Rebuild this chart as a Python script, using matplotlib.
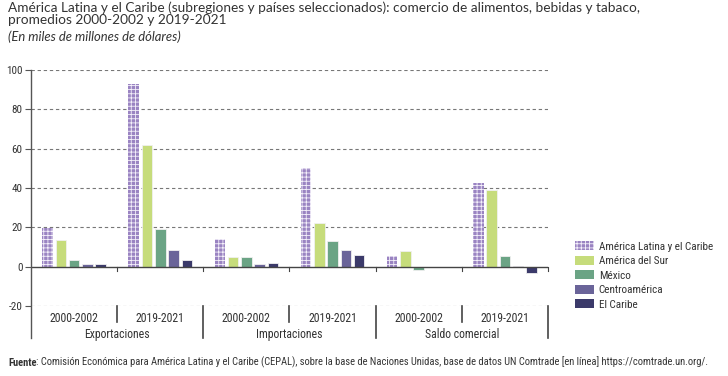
import matplotlib
matplotlib.use('Agg')
import matplotlib.pyplot as plt
import matplotlib.patches as mpatches
import numpy as np

# Data (miles de millones de dólares)
periods = ["2000-2002", "2019-2021"] * 3
groups = ["Exportaciones", "Importaciones", "Saldo comercial"]
series_names = ["América Latina y el Caribe", "América del Sur", "México",
                "Centroamérica", "El Caribe"]
alc = [19.8, 92.9, 14.1, 50.4, 5.6, 42.3]
sur = [13.4, 61.8, 5.1, 22.4, 8.0, 39.2]
mex = [3.2, 19.0, 5.1, 13.2, -1.9, 5.3]
centro = [1.2, 8.7, 1.5, 8.3, -0.3, 0.2]
caribe = [1.6, 3.2, 2.0, 6.1, -0.3, -3.1]
y_ticks = [-20, 0, 20, 40, 60, 80, 100]

COLORS = ["#9a84c2", "#c6dc7b", "#6ba485", "#6a6499", "#3b3a6a"]
NARROW = "Roboto Condensed"
TITLE_FONT = "Lato"
TXT = "#333333"
HATCH = '++++'

plt.rcParams['hatch.linewidth'] = 0.6

fig = plt.figure(figsize=(7.28, 3.76), dpi=100)
fig.patch.set_facecolor('white')

# axes placement in pixels (fig is 728 x 376)
L, R, T, B = 31, 548, 70, 306
ax = fig.add_axes([L / 728, 1 - B / 376, (R - L) / 728, (B - T) / 376])

x = np.arange(len(periods))
step = 0.154
width = 0.122
all_series = [alc, sur, mex, centro, caribe]
for i, vals in enumerate(all_series):
    off = (i - 2) * step
    if i == 0:
        ax.bar(x + off, vals, width, facecolor=COLORS[i], edgecolor='#f4f0fa',
               hatch=HATCH, linewidth=0.0, zorder=3)
    else:
        ax.bar(x + off, vals, width, color=COLORS[i], edgecolor='#f0f0f0',
               linewidth=0.6, zorder=3)

ax.set_xlim(-0.5, 5.5)
ax.set_ylim(-20, 100)
ax.set_yticks(y_ticks)
ax.set_yticklabels([str(v) for v in y_ticks], fontsize=8, family=NARROW, color=TXT)
ax.set_xticks([])
for s in ax.spines.values():
    s.set_visible(False)
ax.tick_params(axis='y', length=4, width=0.8, color='#555555', pad=2)

# gridlines
for v in y_ticks:
    if v == 0:
        ax.axhline(0, color='#444444', lw=1.0, zorder=4)
    else:
        ax.axhline(v, color='#777777', lw=0.8, ls=(0, (3, 2.5)), zorder=1)

xtrans = ax.get_xaxis_transform()
# left axis line, extended below the plot
ax.plot([0, 0], [-0.136, 1.0], transform=ax.transAxes, color='#555555',
        lw=1.0, clip_on=False, zorder=5)

# separators and zero-line ticks
for b in np.arange(0.5, 6, 1.0):
    long_sep = int(round(b - 0.5)) % 2 == 1
    y0 = -0.136 if long_sep else -0.068
    ax.plot([b, b], [y0, 0.0], transform=xtrans, color='#444444',
            lw=1.2, clip_on=False, zorder=5)
    ax.plot([b, b], [0, -2], color='#444444', lw=0.8, clip_on=False, zorder=5)

for xi, p in zip(x, periods):
    ax.text(xi, -0.053, p, transform=xtrans, ha='center', va='center',
            fontsize=8.5, family=NARROW, color=TXT)
for gi, g in enumerate(groups):
    ax.text(2 * gi + 0.5, -0.12, g, transform=xtrans, ha='center',
            va='center', fontsize=8.5, family=NARROW, color=TXT)

# legend
handles = []
for i, name in enumerate(series_names):
    if i == 0:
        handles.append(mpatches.Patch(facecolor=COLORS[0], edgecolor='#f4f0fa',
                                      hatch=HATCH, linewidth=0, label=name))
    else:
        handles.append(mpatches.Patch(facecolor=COLORS[i], label=name))
fig.legend(handles=handles, loc='upper left',
           bbox_to_anchor=(571 / 728, 1 - 237 / 376), frameon=False,
           prop={'family': NARROW, 'size': 8}, handlelength=1.7,
           handleheight=0.85, labelspacing=0.38, handletextpad=0.4,
           borderaxespad=0, labelcolor=TXT)

# title
fig.text(8 / 728, 1 - 1 / 376,
         "América Latina y el Caribe (subregiones y países seleccionados): "
         "comercio de alimentos, bebidas y tabaco,\npromedios 2000-2002 y 2019-2021",
         ha='left', va='top', fontsize=9.8, family=TITLE_FONT,
         color=TXT, linespacing=1.05)
fig.text(8 / 728, 1 - 30 / 376, "(En miles de millones de dólares)",
         ha='left', va='top', fontsize=9.4, family=TITLE_FONT,
         style='italic', color=TXT)

# source
t1 = fig.text(8 / 728, 1 - 368 / 376, "Fuente", ha='left', va='bottom',
              fontsize=7.6, family=NARROW, weight='bold', color=TXT)
ax.annotate(": Comisión Económica para América Latina y el Caribe (CEPAL), sobre la "
            "base de Naciones Unidas, base de datos UN Comtrade [en línea] "
            "https://comtrade.un.org/.",
            xy=(1, 0), xycoords=t1, ha='left', va='bottom', fontsize=7.6,
            family=NARROW, color=TXT, annotation_clip=False)

fig.savefig('out.png', dpi=100, facecolor='white')
